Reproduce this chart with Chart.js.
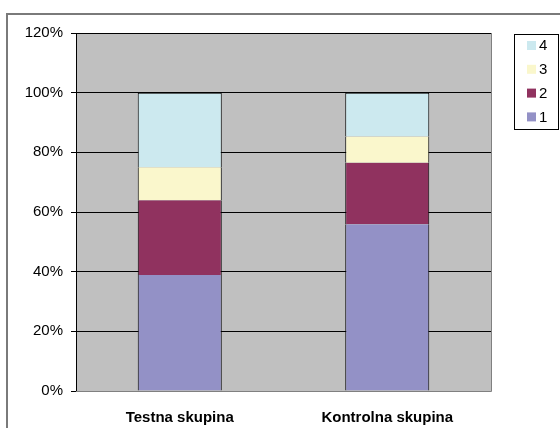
<!DOCTYPE html>
<html>
<head>
<meta charset="utf-8">
<script src="https://cdn.jsdelivr.net/npm/chart.js@4/dist/chart.umd.min.js"></script>
<style>
  html, body { margin: 0; padding: 0; background: #ffffff; }
  #wrap { position: relative; width: 560px; height: 428px; }
</style>
</head>
<body>
<div id="wrap"><canvas id="c" width="560" height="428"></canvas></div>
<script>
// Groups on the x axis
const categories = ['Testna skupina', 'Kontrolna skupina'];

// Share of each grade (percent of the group)
const grade1 = [38.9, 55.9];
const grade2 = [25.0, 20.6];
const grade3 = [11.1, 8.8];
const grade4 = [25.0, 14.7];

const seriesLabels = ['1', '2', '3', '4'];
const seriesColors = ['#9391C6', '#90325F', '#FAF7CC', '#CCE9EF'];

// y axis ticks
const yTicks = [0, 20, 40, 60, 80, 100, 120];

const FONT = 'Liberation Sans, Arial, sans-serif';

// Grey plot area and the outer chart frame
const framePlugin = {
  id: 'frame',
  beforeDraw(chart) {
    const { ctx, chartArea: a } = chart;
    ctx.save();
    ctx.fillStyle = '#ffffff';
    ctx.fillRect(0, 0, chart.width, chart.height);
    ctx.fillStyle = '#C0C0C0';
    ctx.fillRect(a.left, a.top, a.right - a.left, a.bottom - a.top);
    ctx.strokeStyle = '#7a7a7a';
    ctx.lineWidth = 2;
    ctx.strokeRect(7, 14, 700, 700);
    ctx.restore();
  },
  afterDatasetsDraw(chart) {
    const { ctx, chartArea: a } = chart;
    ctx.save();
    ctx.strokeStyle = '#808080';
    ctx.lineWidth = 1;
    ctx.beginPath();
    ctx.moveTo(a.right + 0.5, a.top);
    ctx.lineTo(a.right + 0.5, a.bottom + 0.5);
    ctx.lineTo(a.left, a.bottom + 0.5);
    ctx.stroke();
    ctx.restore();
  }
};

// Boxed legend on the right, listed top series first
const boxLegendPlugin = {
  id: 'boxLegend',
  afterDraw(chart) {
    const { ctx } = chart;
    const x0 = 514, y0 = 34, w = 44, h = 95;
    ctx.save();
    ctx.fillStyle = '#ffffff';
    ctx.fillRect(x0, y0, w, h);
    ctx.strokeStyle = '#000000';
    ctx.lineWidth = 1;
    ctx.strokeRect(x0 + 0.5, y0 + 0.5, w, h);
    const ds = chart.data.datasets;
    ctx.font = '15px ' + FONT;
    ctx.textBaseline = 'middle';
    ctx.textAlign = 'left';
    for (let i = ds.length - 1, row = 0; i >= 0; i--, row++) {
      const cy = 46 + row * 23.8;
      ctx.fillStyle = ds[i].backgroundColor;
      ctx.fillRect(527, cy - 5, 9, 9);
      ctx.fillStyle = '#000000';
      ctx.fillText(ds[i].label, 539, cy);
    }
    ctx.restore();
  }
};

const seriesData = [grade1, grade2, grade3, grade4];
const datasets = seriesData.map((vals, i) => ({
  label: seriesLabels[i],
  data: vals,
  backgroundColor: seriesColors[i],
  borderColor: '#000000',
  borderWidth: i === seriesData.length - 1
    ? { top: 1, left: 1, right: 1, bottom: 0 }
    : { top: 0, left: 1, right: 1, bottom: 0 },
  borderSkipped: false,
  categoryPercentage: 1.0,
  barPercentage: 0.405
}));

new Chart(document.getElementById('c'), {
  type: 'bar',
  data: { labels: categories, datasets },
  plugins: [framePlugin, boxLegendPlugin],
  options: {
    responsive: false,
    animation: false,
    devicePixelRatio: 1,
    layout: { padding: { left: 0, right: 69, top: 33, bottom: 0 } },
    plugins: { legend: { display: false }, tooltip: { enabled: false } },
    scales: {
      x: {
        stacked: true,
        grid: { display: false, drawTicks: false },
        border: { display: false },
        ticks: {
          color: '#000000',
          padding: 18,
          font: { family: FONT, size: 15, weight: 'bold' }
        },
        afterFit(scale) { scale.height = 37; }
      },
      y: {
        stacked: true,
        min: yTicks[0],
        max: yTicks[yTicks.length - 1],
        afterBuildTicks(scale) { scale.ticks = yTicks.map(v => ({ value: v })); },
        grid: { color: '#000000', lineWidth: 1, tickLength: 5, drawTicks: true },
        border: { display: true, color: '#000000', width: 1 },
        ticks: {
          color: '#000000',
          padding: 8,
          font: { family: FONT, size: 15 },
          callback: v => v + '%'
        },
        afterFit(scale) { scale.width = 76; }
      }
    }
  }
});
</script>
</body>
</html>
